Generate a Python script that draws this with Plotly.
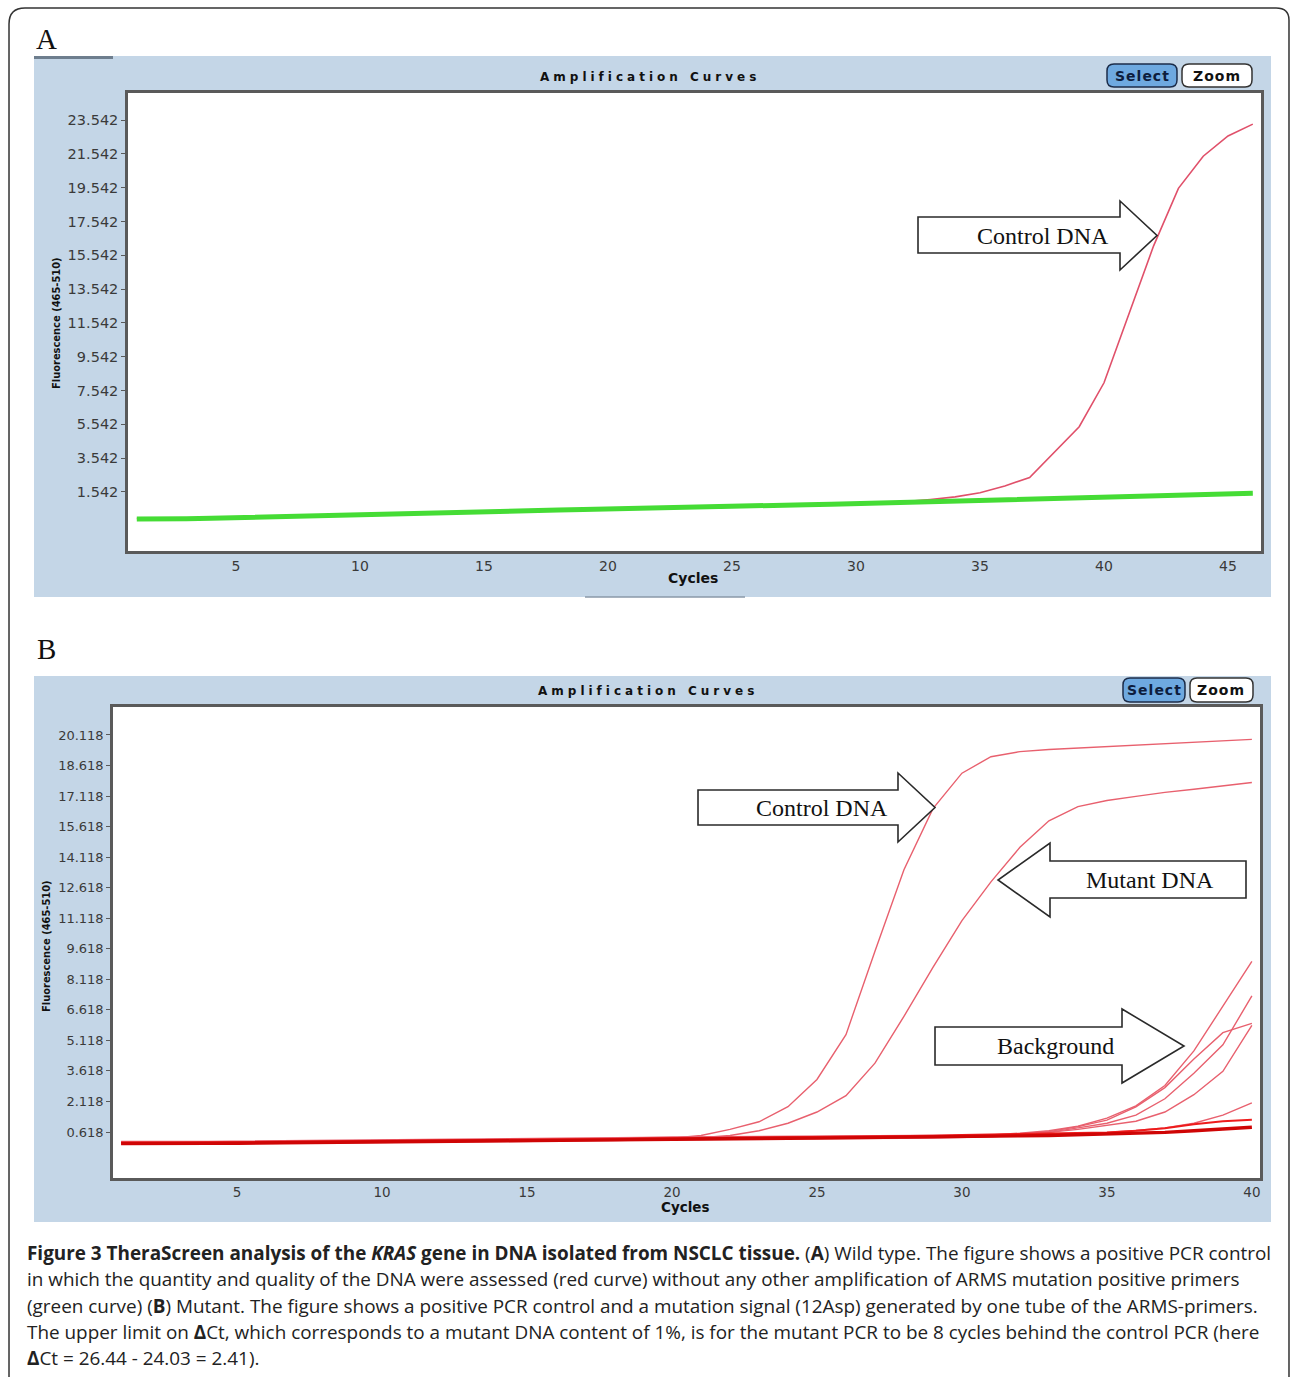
import plotly.graph_objects as go

W, H = 1290, 1377

# ---------------- Panel A data (wild type) ----------------
cycles_a = list(range(1, 47))
green_a = [-0.05, -0.07, -0.04, -0.02, 0.02, 0.06, 0.10, 0.13, 0.16, 0.19,
           0.22, 0.26, 0.30, 0.33, 0.36, 0.39, 0.43, 0.47, 0.50, 0.54,
           0.57, 0.60, 0.63, 0.66, 0.70, 0.73, 0.76, 0.79, 0.82, 0.86,
           0.90, 0.93, 0.96, 0.99, 1.03, 1.06, 1.09, 1.13, 1.16, 1.20,
           1.24, 1.28, 1.32, 1.36, 1.40, 1.46]
red_a = [-0.03, -0.05, -0.02, 0.00, 0.04, 0.08, 0.12, 0.15, 0.18, 0.21,
         0.24, 0.28, 0.32, 0.35, 0.38, 0.41, 0.45, 0.49, 0.52, 0.56,
         0.59, 0.62, 0.65, 0.68, 0.72, 0.75, 0.78, 0.81, 0.84, 0.88,
         0.92, 0.97, 1.10, 1.25, 1.50, 1.90, 2.40, 3.90, 5.40, 8.00,
         12.0, 16.1, 19.5, 21.4, 22.6, 23.3]
ytick_a = ["1.542", "3.542", "5.542", "7.542", "9.542", "11.542", "13.542",
           "15.542", "17.542", "19.542", "21.542", "23.542"]
xtick_a = [5, 10, 15, 20, 25, 30, 35, 40, 45]

# ---------------- Panel B data (mutant) ----------------
cycles_b = list(range(1, 41))
control_b = [0.10, 0.09, 0.10, 0.11, 0.12, 0.13, 0.14, 0.15, 0.16, 0.17,
             0.19, 0.20, 0.21, 0.22, 0.24, 0.26, 0.27, 0.28, 0.30, 0.32,
             0.45, 0.75, 1.12, 1.86, 3.20, 5.40, 9.50, 13.5, 16.5, 18.24,
             19.05, 19.30, 19.40, 19.47, 19.55, 19.60, 19.68, 19.75, 19.82, 19.90]
mutant_b = [0.08, 0.07, 0.08, 0.09, 0.10, 0.11, 0.12, 0.13, 0.14, 0.15,
            0.17, 0.18, 0.19, 0.20, 0.22, 0.24, 0.25, 0.26, 0.28, 0.30,
            0.34, 0.45, 0.68, 1.05, 1.60, 2.40, 4.00, 6.30, 8.70, 11.0,
            12.9, 14.6, 15.9, 16.6, 16.9, 17.1, 17.3, 17.45, 17.6, 17.78]
bg1_b = [0.12, 0.11, 0.12, 0.13, 0.14, 0.15, 0.16, 0.17, 0.18, 0.19,
         0.21, 0.22, 0.23, 0.24, 0.26, 0.28, 0.29, 0.30, 0.32, 0.34,
         0.35, 0.36, 0.37, 0.38, 0.38, 0.39, 0.40, 0.41, 0.42, 0.44,
         0.48, 0.56, 0.68, 0.90, 1.30, 1.90, 2.90, 4.60, 6.80, 9.00]
bg2_b = [0.02, 0.01, 0.02, 0.03, 0.04, 0.05, 0.06, 0.07, 0.08, 0.09,
         0.11, 0.12, 0.13, 0.14, 0.16, 0.18, 0.19, 0.20, 0.22, 0.24,
         0.25, 0.26, 0.27, 0.28, 0.28, 0.29, 0.30, 0.31, 0.32, 0.34,
         0.38, 0.46, 0.60, 0.82, 1.05, 1.45, 2.25, 3.50, 4.90, 7.30]
bg3_b = [0.07, 0.06, 0.07, 0.08, 0.09, 0.10, 0.11, 0.12, 0.13, 0.14,
         0.16, 0.17, 0.18, 0.19, 0.21, 0.23, 0.24, 0.25, 0.27, 0.29,
         0.30, 0.31, 0.32, 0.33, 0.33, 0.34, 0.35, 0.36, 0.37, 0.40,
         0.44, 0.52, 0.64, 0.88, 1.20, 1.85, 2.80, 4.20, 5.50, 5.95]
bg4_b = [0.15, 0.14, 0.15, 0.16, 0.17, 0.18, 0.19, 0.20, 0.21, 0.22,
         0.24, 0.25, 0.26, 0.27, 0.29, 0.31, 0.32, 0.33, 0.35, 0.37,
         0.38, 0.39, 0.40, 0.41, 0.41, 0.42, 0.43, 0.44, 0.44, 0.45,
         0.47, 0.52, 0.60, 0.75, 0.95, 1.15, 1.60, 2.45, 3.60, 5.85]
bg5_b = [0.04, 0.03, 0.04, 0.05, 0.06, 0.07, 0.08, 0.09, 0.10, 0.11,
         0.13, 0.14, 0.15, 0.16, 0.18, 0.20, 0.21, 0.22, 0.24, 0.26,
         0.27, 0.28, 0.29, 0.30, 0.30, 0.31, 0.32, 0.34, 0.36, 0.40,
         0.44, 0.47, 0.50, 0.54, 0.60, 0.70, 0.82, 1.05, 1.45, 2.05]
bg6_b = [0.10, 0.09, 0.10, 0.11, 0.12, 0.13, 0.14, 0.15, 0.16, 0.17,
         0.19, 0.20, 0.21, 0.22, 0.24, 0.26, 0.27, 0.28, 0.30, 0.32,
         0.33, 0.34, 0.35, 0.36, 0.37, 0.38, 0.40, 0.42, 0.44, 0.47,
         0.50, 0.53, 0.55, 0.57, 0.60, 0.68, 0.80, 1.00, 1.15, 1.22]
flat1_b = [0.05, 0.04, 0.05, 0.06, 0.07, 0.08, 0.09, 0.10, 0.11, 0.12,
           0.14, 0.15, 0.16, 0.17, 0.19, 0.21, 0.22, 0.23, 0.25, 0.27,
           0.28, 0.29, 0.30, 0.31, 0.32, 0.33, 0.34, 0.35, 0.37, 0.39,
           0.41, 0.43, 0.45, 0.48, 0.51, 0.55, 0.60, 0.68, 0.76, 0.85]
ytick_b = ["0.618", "2.118", "3.618", "5.118", "6.618", "8.118", "9.618",
           "11.118", "12.618", "14.118", "15.618", "17.118", "18.618", "20.118"]
xtick_b = [5, 10, 15, 20, 25, 30, 35, 40]

# ---------------- styles ----------------
BLUE = "#c4d6e7"
AXC = "#5a5a5a"
TICKF = "DejaVu Sans, Verdana, sans-serif"
SERIF = "Liberation Serif, Times New Roman, serif"
COND = "DejaVu Sans Condensed, Liberation Sans Narrow, Arial Narrow, sans-serif"
CAPF = "Open Sans, Noto Sans, sans-serif"
BLINE = "#e8606e"


def fx(x):
    return x / W


def fy(y):
    return 1 - y / H


def path(points, close=True):
    s = "M " + " L ".join(f"{fx(x):.5f},{fy(y):.5f}" for x, y in points)
    return s + (" Z" if close else "")


def rrect(x0, y0, x1, y1, r):
    s = f"M {fx(x0 + r):.5f},{fy(y0):.5f} L {fx(x1 - r):.5f},{fy(y0):.5f} "
    s += f"Q {fx(x1):.5f},{fy(y0):.5f} {fx(x1):.5f},{fy(y0 + r):.5f} "
    s += f"L {fx(x1):.5f},{fy(y1 - r):.5f} Q {fx(x1):.5f},{fy(y1):.5f} {fx(x1 - r):.5f},{fy(y1):.5f} "
    s += f"L {fx(x0 + r):.5f},{fy(y1):.5f} Q {fx(x0):.5f},{fy(y1):.5f} {fx(x0):.5f},{fy(y1 - r):.5f} "
    s += f"L {fx(x0):.5f},{fy(y0 + r):.5f} Q {fx(x0):.5f},{fy(y0):.5f} {fx(x0 + r):.5f},{fy(y0):.5f} Z"
    return s


fig = go.Figure()

# Panel A traces
fig.add_trace(go.Scatter(x=cycles_a, y=red_a, mode="lines", xaxis="x", yaxis="y",
                         line=dict(color="#e0506a", width=1.6), showlegend=False))
fig.add_trace(go.Scatter(x=cycles_a, y=green_a, mode="lines", xaxis="x", yaxis="y",
                         line=dict(color="#45dc35", width=5), showlegend=False))

# Panel B traces (thin amplification curves first, dark baseline band on top)
for ys, col, wd in [(bg5_b, BLINE, 1.4), (bg2_b, BLINE, 1.4),
                    (bg4_b, BLINE, 1.4), (bg3_b, BLINE, 1.4), (bg1_b, BLINE, 1.4),
                    (mutant_b, BLINE, 1.4), (control_b, BLINE, 1.4),
                    (bg6_b, "#ee1c1c", 2.0), (flat1_b, "#cf0505", 3.4)]:
    fig.add_trace(go.Scatter(x=cycles_b, y=ys, mode="lines", xaxis="x2", yaxis="y2",
                             line=dict(color=col, width=wd), showlegend=False))

shapes = []
# outer frame
shapes.append(dict(type="path", xref="paper", yref="paper", layer="above",
                   path=(f"M {fx(9):.5f},{fy(1377):.5f} L {fx(9):.5f},{fy(24):.5f} "
                         f"Q {fx(9):.5f},{fy(8):.5f} {fx(25):.5f},{fy(8):.5f} "
                         f"L {fx(1276):.5f},{fy(8):.5f} Q {fx(1289):.5f},{fy(8):.5f} {fx(1289):.5f},{fy(20):.5f} "
                         f"L {fx(1289):.5f},{fy(1377):.5f}"),
                   line=dict(color="#333333", width=1.5)))
# blue panels + white plot areas
for (bx0, by0, bx1, by1), (px0, py0, px1, py1) in [((34, 56, 1271, 597), (128, 93, 1261, 551)),
                                                   ((34, 676, 1271, 1222), (113, 707, 1260, 1178))]:
    shapes.append(dict(type="rect", xref="paper", yref="paper", layer="below",
                       x0=fx(bx0), x1=fx(bx1), y0=fy(by1), y1=fy(by0),
                       fillcolor=BLUE, line=dict(width=0)))
    shapes.append(dict(type="rect", xref="paper", yref="paper", layer="below",
                       x0=fx(px0), x1=fx(px1), y0=fy(py1), y1=fy(py0),
                       fillcolor="white", line=dict(width=0)))
# small dark bar at top-left of panel A and grey line at bottom
shapes.append(dict(type="rect", xref="paper", yref="paper", layer="below",
                   x0=fx(34), x1=fx(113), y0=fy(59), y1=fy(56),
                   fillcolor="#6e7e8e", line=dict(width=0)))
shapes.append(dict(type="line", xref="paper", yref="paper", layer="below",
                   x0=fx(585), x1=fx(745), y0=fy(597), y1=fy(597),
                   line=dict(color="#8a99a8", width=1.5)))

# Select / Zoom buttons
for (sx0, sy0, sx1, sy1), (zx0, zy0, zx1, zy1) in [((1107, 64, 1177, 87), (1182, 64, 1252, 87)),
                                                   ((1123, 678, 1185, 702), (1190, 678, 1253, 702))]:
    shapes.append(dict(type="path", xref="paper", yref="paper", layer="above",
                       path=rrect(sx0, sy0, sx1, sy1, 7), fillcolor="#6ea9e0",
                       line=dict(color="#1c2d4a", width=1.5)))
    shapes.append(dict(type="path", xref="paper", yref="paper", layer="above",
                       path=rrect(zx0, zy0, zx1, zy1, 7), fillcolor="white",
                       line=dict(color="#333333", width=1.5)))


def block_arrow(x_body, x_base, x_tip, yb0, yb1, yh0, yh1):
    ym = (yh0 + yh1) / 2
    pts = [(x_body, yb0), (x_base, yb0), (x_base, yh0), (x_tip, ym),
           (x_base, yh1), (x_base, yb1), (x_body, yb1)]
    return dict(type="path", xref="paper", yref="paper", layer="above",
                path=path(pts), fillcolor="white",
                line=dict(color="#2a2a2a", width=1.6))


shapes.append(block_arrow(918, 1120, 1157, 217, 253, 201, 270))     # A control
shapes.append(block_arrow(698, 898, 935, 790, 825, 773, 842))       # B control
shapes.append(block_arrow(1246, 1050, 998, 861, 898, 843, 917))     # B mutant (left)
shapes.append(block_arrow(935, 1122, 1184, 1027, 1065, 1009, 1083))  # B background

annotations = []


def ann(text, x, y, size, family, color="#111111", xanchor="center", angle=0):
    annotations.append(dict(text=text, x=fx(x), y=fy(y), xref="paper", yref="paper",
                            showarrow=False, xanchor=xanchor, yanchor="middle",
                            textangle=angle,
                            font=dict(size=size, family=family, color=color)))


ann("A", 46, 39, 29, SERIF, "#111111")
ann("B", 46, 649, 29, SERIF, "#111111")
title_txt = '<b><span style="letter-spacing:4px">Amplification Curves</span></b>'
ann(title_txt, 650, 77, 12, "DejaVu Sans, sans-serif", "#111111")
ann(title_txt, 648, 691, 12, "DejaVu Sans, sans-serif", "#111111")
for sx, zx, yy in [(1142, 1217, 75.5), (1154, 1221, 690)]:
    ann('<b><span style="letter-spacing:1px">Select</span></b>', sx, yy, 14,
        "DejaVu Sans, sans-serif", "#0d1d3d")
    ann('<b><span style="letter-spacing:1px">Zoom</span></b>', zx, yy, 14,
        "DejaVu Sans, sans-serif", "#111111")
ann("<b>Cycles</b>", 693, 578, 14, "DejaVu Sans, sans-serif", "#111111")
ann("<b>Cycles</b>", 685, 1207, 13.5, "DejaVu Sans, sans-serif", "#111111")
ann("<b>Fluorescence (465-510)</b>", 57, 323, 11, COND, "#111111", angle=-90)
ann("<b>Fluorescence (465-510)</b>", 46, 946, 11, COND, "#111111", angle=-90)
ann("Control DNA", 1043, 236, 24, SERIF, "#111111")
ann("Control DNA", 822, 808, 24, SERIF, "#111111")
ann("Mutant DNA", 1150, 880, 24, SERIF, "#111111")
ann("Background", 1055, 1046, 24, SERIF, "#111111")

caption = [
    "<b>Figure 3 TheraScreen analysis of the <i>KRAS</i> gene in DNA isolated from NSCLC tissue.</b> "
    "(<b>A</b>) Wild type. The figure shows a positive PCR control",
    "in which the quantity and quality of the DNA were assessed (red curve) without any other "
    "amplification of ARMS mutation positive primers",
    "(green curve) (<b>B</b>) Mutant. The figure shows a positive PCR control and a mutation signal "
    "(12Asp) generated by one tube of the ARMS-primers.",
    "The upper limit on <b>Δ</b>Ct, which corresponds to a mutant DNA content of 1%, is for the "
    "mutant PCR to be 8 cycles behind the control PCR (here",
    "<b>Δ</b>Ct = 26.44 - 24.03 = 2.41).",
]
for i, line in enumerate(caption):
    ann(line, 25, 1253 + i * 26.3, 18.9, CAPF, "#222222", xanchor="left")

axis_common = dict(showline=True, mirror=True, linecolor=AXC, linewidth=2.5,
                   showgrid=False, zeroline=False, tickcolor=AXC, tickwidth=1)

fig.update_layout(
    width=W, height=H, autosize=False,
    margin=dict(l=0, r=0, t=0, b=0),
    paper_bgcolor="white", plot_bgcolor="rgba(0,0,0,0)",
    showlegend=False,
    shapes=shapes, annotations=annotations,
    xaxis=dict(domain=[fx(128), fx(1261)], range=[0.645, 46.33], anchor="y",
               tickvals=xtick_a, ticktext=[str(v) for v in xtick_a], ticks="",
               tickfont=dict(family=TICKF, size=14, color="#3a3a3a"), **axis_common),
    yaxis=dict(domain=[fy(551), fy(93)], range=[-1.95, 25.14], anchor="x",
               tickvals=[float(t) for t in ytick_a], ticktext=ytick_a,
               ticks="outside", ticklen=4,
               tickfont=dict(family=TICKF, size=14.5, color="#3a3a3a"), **axis_common),
    xaxis2=dict(domain=[fx(113), fx(1260)], range=[0.72, 40.28], anchor="y2",
                tickvals=xtick_b, ticktext=[str(v) for v in xtick_b], ticks="",
                tickfont=dict(family=TICKF, size=13.5, color="#3a3a3a"), **axis_common),
    yaxis2=dict(domain=[fy(1178), fy(707)], range=[-1.64, 21.49], anchor="x2",
                tickvals=[float(t) for t in ytick_b], ticktext=ytick_b,
                ticks="outside", ticklen=4,
                tickfont=dict(family=TICKF, size=13, color="#3a3a3a"), **axis_common),
)

fig.write_html("out.html", config={"displayModeBar": False},
               post_script="document.body.style.margin='0';document.body.style.overflow='hidden';")
